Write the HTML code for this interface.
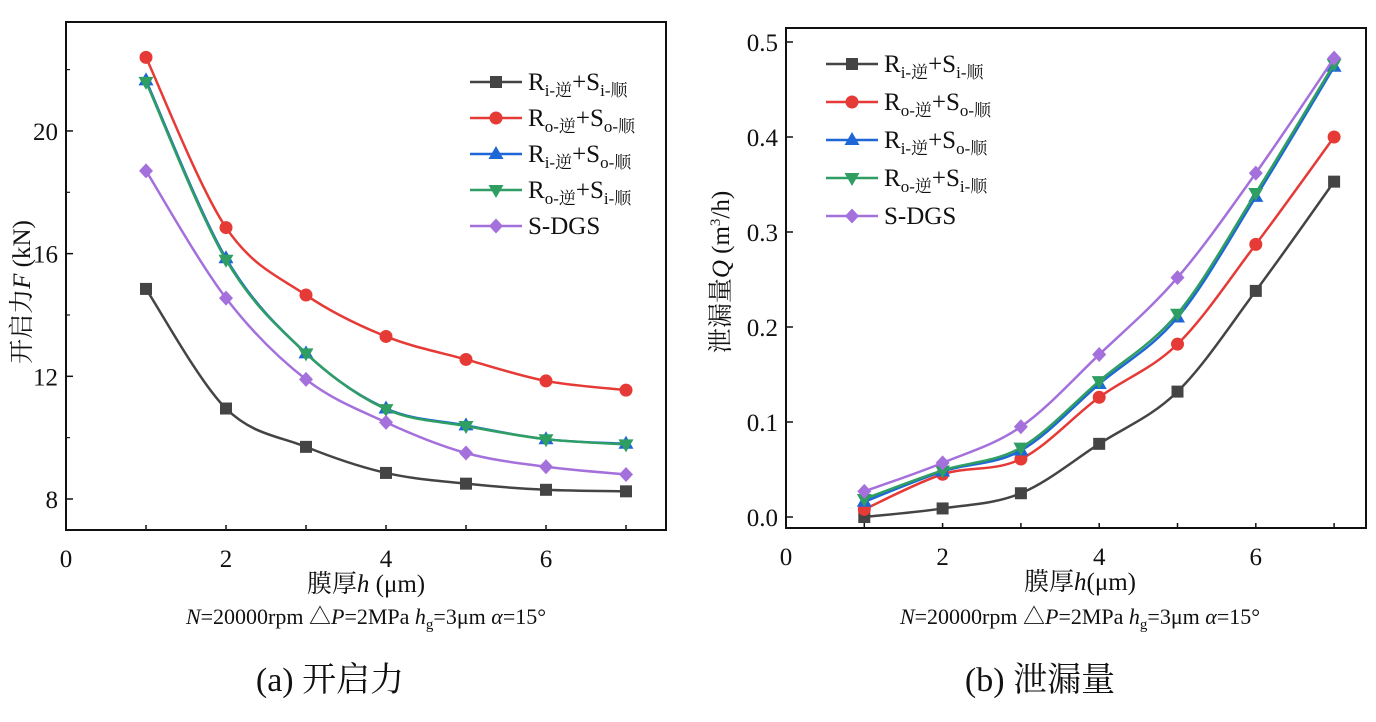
<!DOCTYPE html>
<html><head><meta charset="utf-8"><style>
body{margin:0;background:#fff;width:1376px;height:717px;overflow:hidden}
svg{font-family:"Liberation Serif","Noto Serif CJK SC",serif}
</style></head><body>
<svg id="s" width="1376" height="717"></svg>
<script>
const xs=[1,2,3,4,5,6,7];
const fBlack=[14.85,10.95,9.7,8.85,8.5,8.3,8.25];
const fRed=[22.4,16.85,14.65,13.3,12.55,11.85,11.55];
const fBlue=[21.65,15.85,12.75,10.95,10.4,9.95,9.8];
const fGreen=[21.6,15.8,12.75,10.93,10.38,9.95,9.78];
const fPurple=[18.7,14.55,11.9,10.5,9.5,9.05,8.8];
const qBlack=[0.0,0.009,0.025,0.077,0.132,0.238,0.353];
const qRed=[0.008,0.045,0.061,0.126,0.182,0.287,0.4];
const qBlue=[0.016,0.048,0.07,0.14,0.21,0.337,0.474];
const qGreen=[0.019,0.049,0.073,0.143,0.214,0.341,0.477];
const qPurple=[0.027,0.057,0.095,0.171,0.252,0.362,0.483];
const xTicks=[0,2,4,6];
const fTicks=[8,12,16,20];
const qTicks=[0.0,0.1,0.2,0.3,0.4,0.5];
const S=document.getElementById('s');const NS='http://www.w3.org/2000/svg';
function el(t,a,p){const e=document.createElementNS(NS,t);for(const k in a)e.setAttribute(k,a[k]);(p||S).appendChild(e);return e;}
function txt(x,y,s,a){const e=el('text',Object.assign({x:x,y:y,'font-size':25,fill:'#111'},a||{}));e.innerHTML=s;return e;}
const series=[['black','#444','sq'],['red','#e63a36','ci'],['blue','#1f67d6','tu'],['green','#2f9e63','td'],['purple','#a470dc','di']];
function marker(g,t,x,y,c){
 if(t=='sq')el('rect',{x:x-6,y:y-6,width:12,height:12,fill:c},g);
 else if(t=='ci')el('circle',{cx:x,cy:y,r:6.5,fill:c},g);
 else if(t=='tu')el('polygon',{points:`${x},${y-8} ${x-7.5},${y+5} ${x+7.5},${y+5}`,fill:c},g);
 else if(t=='td')el('polygon',{points:`${x},${y+8} ${x-7.5},${y-5} ${x+7.5},${y-5}`,fill:c},g);
 else el('polygon',{points:`${x},${y-7.5} ${x+7},${y} ${x},${y+7.5} ${x-7},${y}`,fill:c},g);
}
function smooth(p){let d=`M${p[0][0]},${p[0][1]}`;for(let i=0;i<p.length-1;i++){const a=p[Math.max(0,i-1)],b=p[i],c=p[i+1],e=p[Math.min(p.length-1,i+2)];
 d+=` C${b[0]+(c[0]-a[0])/6},${b[1]+(c[1]-a[1])/6} ${c[0]-(e[0]-b[0])/6},${c[1]-(e[1]-b[1])/6} ${c[0]},${c[1]}`;}return d;}
function chart(o){
 const g=el('g',{});
 const X=v=>o.x0+(v)*o.xs, Y=v=>o.y0-(v-o.v0)*o.ys;
 xTicks.forEach(v=>{txt(X(v),o.by+37,v,{'text-anchor':'middle',});});
 for(let v=1;v<=7;v++)el('line',{x1:X(v),x2:X(v),y1:o.by,y2:o.by-5,stroke:'#111','stroke-width':1.5},g);
 o.ticks.forEach(v=>{txt(o.bx-8,Y(v)+9,o.fmt(v),{'text-anchor':'end',});
  el('line',{x1:o.bx,x2:o.bx+7,y1:Y(v),y2:Y(v),stroke:'#111','stroke-width':1.5},g);});
 o.minor.forEach(v=>el('line',{x1:o.bx,x2:o.bx+4,y1:Y(v),y2:Y(v),stroke:'#111','stroke-width':1.2},g));
 el('rect',{x:o.bx,y:o.ty,width:o.rx-o.bx,height:o.by-o.ty,fill:'none',stroke:'#111','stroke-width':2,},g);
 o.data.forEach((d,i)=>{const [n,c,m]=series[i];const sg=el('g',{},g);
  
  
  const pts=xs.map((x,j)=>[X(x),Y(d[j])]);
  el('path',{d:smooth(pts),fill:'none',stroke:c,'stroke-width':2.5},sg);
  pts.forEach(p=>marker(sg,m,p[0],p[1],c));});
 const labs=['R<tspan font-size="17" dy="6">i-逆</tspan><tspan dy="-6">+S</tspan><tspan font-size="17" dy="6">i-顺</tspan>',
  'R<tspan font-size="17" dy="6">o-逆</tspan><tspan dy="-6">+S</tspan><tspan font-size="17" dy="6">o-顺</tspan>',
  'R<tspan font-size="17" dy="6">i-逆</tspan><tspan dy="-6">+S</tspan><tspan font-size="17" dy="6">o-顺</tspan>',
  'R<tspan font-size="17" dy="6">o-逆</tspan><tspan dy="-6">+S</tspan><tspan font-size="17" dy="6">i-顺</tspan>','S-DGS'];
 labs.forEach((l,i)=>{const y=o.ly+i*o.lh;const [n,c,m]=series[i];const lg=el('g',{},g);
  el('line',{x1:o.lx,x2:o.lx+52,y1:y,y2:y,stroke:c,'stroke-width':2.5},lg);marker(lg,m,o.lx+26,y,c);
  const t=txt(o.lx+58,y+8,l,{'font-size':25});lg.appendChild(t);});
}
chart({name:'chart-opening-force',bx:66,rx:666,ty:22,by:530,x0:66,xs:80,y0:499,v0:8,ys:30.67,ticks:fTicks,minor:[10,14,18,22],fmt:v=>v,
 data:[fBlack,fRed,fBlue,fGreen,fPurple],lx:470,ly:82,lh:36});
chart({name:'chart-leakage',bx:786,rx:1366,ty:28,by:528,x0:786,xs:78.3,y0:517,v0:0,ys:950,ticks:qTicks,minor:[],fmt:v=>v.toFixed(1),
 data:[qBlack,qRed,qBlue,qGreen,qPurple],lx:826,ly:64,lh:38});
txt(366,592,'膜厚<tspan font-style="italic">h</tspan> (μm)',{'text-anchor':'middle',});
txt(1080,590,'膜厚<tspan font-style="italic">h</tspan>(μm)',{'text-anchor':'middle',});
txt(366,624,'<tspan font-style="italic">N</tspan>=20000rpm △<tspan font-style="italic">P</tspan>=2MPa <tspan font-style="italic">h</tspan><tspan font-size="15" dy="5">g</tspan><tspan dy="-5">=3μm </tspan><tspan font-style="italic">α</tspan>=15°',{'text-anchor':'middle','font-size':22,});
txt(1080,624,'<tspan font-style="italic">N</tspan>=20000rpm △<tspan font-style="italic">P</tspan>=2MPa <tspan font-style="italic">h</tspan><tspan font-size="15" dy="5">g</tspan><tspan dy="-5">=3μm </tspan><tspan font-style="italic">α</tspan>=15°',{'text-anchor':'middle','font-size':22,});
txt(330,691,'(a) 开启力',{'text-anchor':'middle','font-size':34,});
txt(1040,691,'(b) 泄漏量',{'text-anchor':'middle','font-size':34,});
txt(0,0,'开启力<tspan font-style="italic">F</tspan> (kN)',{transform:'translate(30,292) rotate(-90)','text-anchor':'middle',});
txt(0,0,'泄漏量<tspan font-style="italic">Q</tspan> (m<tspan font-size="15" dy="-9">3</tspan><tspan dy="9">/h)</tspan>',{transform:'translate(729,272) rotate(-90)','text-anchor':'middle',});
</script>
</body></html>
